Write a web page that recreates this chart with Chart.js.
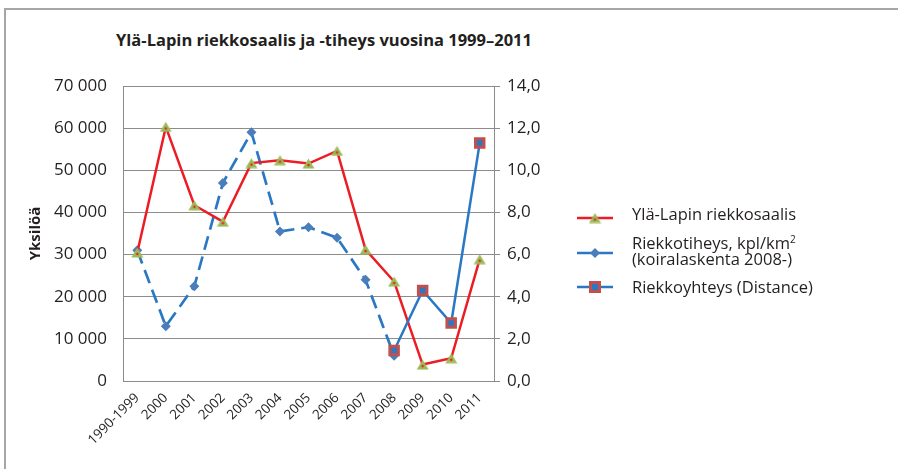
<!DOCTYPE html>
<html>
<head>
<meta charset="utf-8">
<script src="https://cdn.jsdelivr.net/npm/chart.js@4"></script>
<style>
  body { margin: 0; background: #fff; font-family: "Open Sans", sans-serif; }
  #wrap { position: relative; width: 898px; height: 469px; overflow: hidden; }
  #frame { position: absolute; left: 4px; top: 8px; right: -10px; bottom: -10px;
           border-left: 2px solid #a6a6a6; border-top: 2px solid #a6a6a6; }
  #title { position: absolute; left: 0; width: 648px; top: 28px; text-align: center;
           font-weight: bold; font-size: 16.5px; color: #231f20; }
  #chart { position: absolute; left: 0; top: 0; }
  #legend { position: absolute; left: 0; top: 0; font-size: 16.5px; color: #231f20; }
  .item { position: absolute; left: 577px; white-space: nowrap; }
  .item canvas { position: absolute; left: 0; }
  .item span { position: absolute; left: 55px; line-height: 16px; }
</style>
</head>
<body>
<div id="wrap">
  <div id="frame"></div>
  <div id="title">Ylä-Lapin riekkosaalis ja -tiheys vuosina 1999–2011</div>
  <canvas id="chart" width="898" height="469"></canvas>
  <div id="legend"></div>
</div>
<script>
// data
const categories = ['1990-1999', '2000', '2001', '2002', '2003', '2004', '2005',
                    '2006', '2007', '2008', '2009', '2010', '2011'];
const saalis   = [30500, 60300, 41700, 37800, 51700, 52400, 51600, 54600, 31200, 23600, 3900, 5400, 28900];
const tiheys   = [6.2, 2.6, 4.5, 9.4, 11.8, 7.1, 7.3, 6.8, 4.8, 1.2, null, null, null];
const distance = [null, null, null, null, null, null, null, null, null, 1.45, 4.3, 2.75, 11.3];
const seriesLabels = [
  ['Ylä-Lapin riekkosaalis'],
  ['Riekkotiheys, kpl/km²', '(koiralaskenta 2008-)'],
  ['Riekkoyhteys (Distance)']
];
const leftMax = 70000, leftStep = 10000;
const rightMax = 14, rightStep = 2;
const yTitle = 'Yksilöä';

const RED = '#ec1c24', GREEN = '#9bbb59', BLUE = '#2a78c4', DIAMOND = '#4a7ebb', BROWN = '#c0504d';
const GRID = '#8c8c8c', TEXT = '#231f20';

// triangle marker with the little red dot
function triangleMarker() {
  const c = document.createElement('canvas');
  c.width = 13; c.height = 11;
  const g = c.getContext('2d');
  g.fillStyle = GREEN;
  g.beginPath();
  g.moveTo(0.5, 10.5); g.lineTo(12.5, 10.5); g.lineTo(6.5, 0.5); g.closePath();
  g.fill();
  g.fillStyle = RED;
  g.beginPath(); g.arc(6.5, 7, 1.2, 0, Math.PI * 2); g.fill();
  return c;
}
const tri = triangleMarker();

function fmtThousands(v) {
  if (v === 0) return '0';
  return Math.floor(v / 1000) + ' ' + String(v % 1000).padStart(3, '0');
}

const chart = new Chart(document.getElementById('chart'), {
  type: 'line',
  data: {
    labels: categories,
    datasets: [
      {
        label: seriesLabels[2].join(' '),
        data: distance, yAxisID: 'y2', order: 1,
        borderColor: BLUE, borderWidth: 2.5,
        pointStyle: 'rect', pointRadius: 6, pointBorderWidth: 3,
        pointBackgroundColor: BLUE, pointBorderColor: BROWN
      },
      {
        label: seriesLabels[0].join(' '),
        data: saalis, yAxisID: 'y', order: 2,
        borderColor: RED, borderWidth: 2.5,
        pointStyle: tri, pointRadius: 6
      },
      {
        label: seriesLabels[1].join(' '),
        data: tiheys, yAxisID: 'y2', order: 3,
        borderColor: BLUE, borderWidth: 2.7, borderDash: [14, 7],
        pointStyle: 'rectRot', pointRadius: 5, pointBorderWidth: 0,
        pointBackgroundColor: DIAMOND, pointBorderColor: DIAMOND
      }
    ]
  },
  options: {
    responsive: false,
    animation: false,
    layout: { padding: { top: 86, right: 344, bottom: 0, left: 0 } },
    plugins: { legend: { display: false }, tooltip: { enabled: false }, title: { display: false } },
    scales: {
      x: {
        offset: true,
        grid: { display: false },
        border: { color: GRID, width: 1 },
        ticks: { autoSkip: false, minRotation: 45, maxRotation: 45, padding: 1,
                 color: TEXT, font: { family: 'Open Sans', size: 13.5 } },
        afterFit: s => { s.height = 88; }
      },
      y: {
        position: 'left', min: 0, max: leftMax,
        grid: { color: GRID, lineWidth: 1, drawTicks: false },
        border: { color: GRID, width: 1 },
        ticks: { stepSize: leftStep, padding: 16, color: TEXT,
                 font: { family: 'Open Sans', size: 17 }, callback: v => fmtThousands(v) },
        title: { display: true, text: yTitle, color: TEXT, padding: { top: 27 },
                 font: { family: 'Open Sans', size: 15, weight: 'bold' } },
        afterFit: s => { s.width = 123; }
      },
      y2: {
        position: 'right', min: 0, max: rightMax,
        grid: { drawOnChartArea: false, color: GRID, tickLength: 6 },
        border: { color: GRID, width: 1 },
        ticks: { stepSize: rightStep, padding: 7, color: TEXT,
                 font: { family: 'Open Sans', size: 17 },
                 callback: v => v.toFixed(1).replace('.', ',') },
        afterFit: s => { s.width = 60; }
      }
    }
  }
});

// html legend
const legendTops = [{ icon: 211, text: 206 }, { icon: 246, text: 235 }, { icon: 280, text: 279 }];
const legendIcons = [
  { color: RED, draw: (g) => g.drawImage(tri, 18 - 6.5, 7 - 5.5) },
  { color: BLUE, draw: (g) => { g.fillStyle = DIAMOND; g.beginPath(); g.moveTo(18, 2); g.lineTo(23, 7); g.lineTo(18, 12); g.lineTo(13, 7); g.closePath(); g.fill(); } },
  { color: BLUE, draw: (g) => { g.fillStyle = BLUE; g.strokeStyle = BROWN; g.lineWidth = 3; g.fillRect(13.5, 2.5, 9, 9); g.strokeRect(13.5, 2.5, 9, 9); } }
];
const legend = document.getElementById('legend');
seriesLabels.forEach((lines, i) => {
  const item = document.createElement('div');
  item.className = 'item';
  item.style.top = legendTops[i].text + 'px';
  const c = document.createElement('canvas');
  c.width = 36; c.height = 14;
  c.style.top = (legendTops[i].icon - legendTops[i].text) + 'px';
  const g = c.getContext('2d');
  g.strokeStyle = legendIcons[i].color; g.lineWidth = 2.5;
  g.beginPath(); g.moveTo(0, 7); g.lineTo(36, 7); g.stroke();
  legendIcons[i].draw(g);
  item.appendChild(c);
  const span = document.createElement('span');
  span.innerHTML = lines.map(l => l.replace('²', '<sup style="font-size:10px;line-height:0">2</sup>')).join('<br>');
  item.appendChild(span);
  legend.appendChild(item);
});
</script>
</body>
</html>
